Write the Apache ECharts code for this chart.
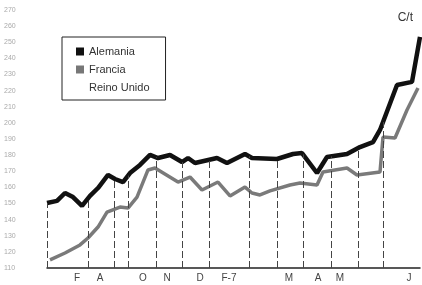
<!DOCTYPE html>
<html>
<head>
<meta charset="utf-8">
<script src="https://cdn.jsdelivr.net/npm/echarts@6/dist/echarts.min.js"></script>
<style>
  html, body { margin: 0; padding: 0; background: #fff; }
  #chart { width: 422px; height: 285px; }
</style>
</head>
<body>
<div id="chart"></div>
<script>
'use strict';

// semanas (posición en el eje) y precios
var alemaniaX = [7, 17, 25, 33, 42, 50, 58, 68, 75, 83, 90, 100, 110, 118, 130, 142, 148, 155, 177, 187, 205, 212, 237, 253, 262, 277, 287, 307, 320, 333, 340, 357, 372, 380];
var alemaniaY = [150.3, 151.6, 156.5, 154.0, 148.5, 154.7, 159.6, 167.7, 165.2, 163.3, 168.9, 173.9, 180.1, 178.2, 180.1, 175.7, 178.2, 175.1, 178.2, 175.1, 180.7, 178.2, 177.6, 180.7, 181.3, 168.9, 178.8, 180.7, 185.0, 188.1, 195.6, 223.5, 225.4, 253.3];

var franciaX = [10, 25, 40, 48, 58, 67, 80, 88, 97, 108, 115, 138, 150, 162, 178, 190, 205, 212, 220, 230, 250, 260, 277, 283, 307, 317, 340, 343, 355, 367, 378];
var franciaY = [115.0, 119.3, 124.3, 128.6, 135.4, 144.7, 147.8, 147.2, 154.0, 170.8, 172.0, 163.3, 166.4, 158.4, 163.3, 154.7, 160.2, 156.5, 155.3, 157.8, 161.5, 162.7, 161.5, 169.5, 172.0, 167.7, 169.5, 191.2, 190.6, 208.0, 221.6];

var monthTicks = [37, 60, 103, 127, 160, 189, 249, 278, 300, 369];
var monthNames = ['F', 'A', 'O', 'N', 'D', 'F-7', 'M', 'A', 'M', 'J'];

var dropLines = [7, 48, 74, 88, 116, 142, 169, 209, 237, 263, 291, 318, 343];

var chart = echarts.init(document.getElementById('chart'), null, { renderer: 'canvas' });

function zip(xs, ys) {
  var out = [];
  for (var i = 0; i < xs.length; i++) out.push([xs[i], ys[i]]);
  return out;
}

// altura de la línea de Alemania en x (para las líneas verticales)
function alemaniaAt(x) {
  for (var i = 0; i < alemaniaX.length - 1; i++) {
    if (x >= alemaniaX[i] && x <= alemaniaX[i + 1]) {
      var t = (x - alemaniaX[i]) / (alemaniaX[i + 1] - alemaniaX[i]);
      return alemaniaY[i] + t * (alemaniaY[i + 1] - alemaniaY[i]);
    }
  }
  return alemaniaY[x < alemaniaX[0] ? 0 : alemaniaY.length - 1];
}

var dropData = dropLines.map(function (x) {
  return [{ coord: [x, 110] }, { coord: [x, alemaniaAt(x)] }];
});

var option = {
  animation: false,
  backgroundColor: '#fff',
  textStyle: { fontFamily: 'Liberation Sans, Arial, sans-serif' },
  title: {
    text: 'C/t',
    right: 4,
    top: 7,
    textStyle: { fontSize: 12, fontWeight: 'normal', color: '#333' }
  },
  legend: {
    orient: 'vertical',
    left: 62,
    top: 37,
    padding: [9, 16, 7, 14],
    itemGap: 7,
    itemWidth: 8,
    itemHeight: 8,
    borderColor: '#222',
    borderWidth: 1,
    textStyle: { fontSize: 11, color: '#333' },
    data: [
      { name: 'Alemania', icon: 'rect' },
      { name: 'Francia', icon: 'rect' },
      { name: 'Reino Unido', icon: 'rect', itemStyle: { opacity: 0 } }
    ]
  },
  grid: { left: 47, right: 2, top: 10, bottom: 17 },
  xAxis: {
    type: 'value',
    min: 7,
    max: 380,
    axisLine: { show: true, lineStyle: { color: '#222', width: 1.5 } },
    axisTick: { show: false },
    splitLine: { show: false },
    axisLabel: {
      customValues: monthTicks,
      margin: 5,
      fontSize: 10,
      color: '#444',
      formatter: function (v) {
        var i = monthTicks.indexOf(v);
        return i >= 0 ? monthNames[i] : '';
      }
    }
  },
  yAxis: {
    type: 'value',
    min: 110,
    max: 270,
    interval: 10,
    axisLine: { show: false },
    axisTick: { show: false },
    splitLine: { show: false },
    axisLabel: { fontSize: 7, color: '#aaa', align: 'left', margin: 43 }
  },
  series: [
    {
      name: 'Alemania',
      type: 'line',
      symbol: 'none',
      color: '#111',
      lineStyle: { width: 4.5, color: '#111' },
      data: zip(alemaniaX, alemaniaY),
      markLine: {
        silent: true,
        symbol: 'none',
        label: { show: false },
        lineStyle: { color: '#444', width: 1, type: [7, 3] },
        data: dropData
      },
      z: 3
    },
    {
      name: 'Francia',
      type: 'line',
      symbol: 'none',
      color: '#777',
      lineStyle: { width: 3.5, color: '#7a7a7a' },
      data: zip(franciaX, franciaY),
      z: 2
    },
    {
      name: 'Reino Unido',
      type: 'line',
      symbol: 'none',
      color: '#999',
      data: []
    }
  ]
};

chart.setOption(option);
</script>
</body>
</html>
